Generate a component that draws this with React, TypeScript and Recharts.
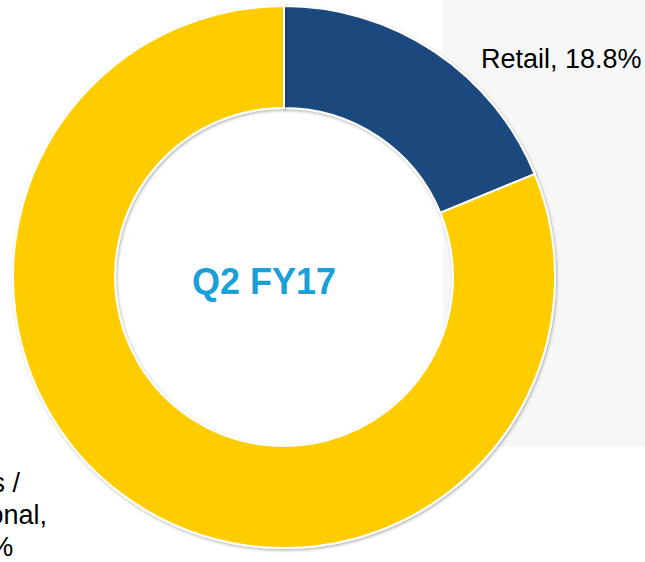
import React from 'react';
import { PieChart, Pie, Cell } from 'recharts';

const segments = ['Retail', 'Banks / Institutional'];
const shares = [18.8, 81.2];
const colors = ['#1f497d', '#ffcc00'];
const centerTitle = 'Q2 FY17';

const data = segments.map((name, i) => ({ name, value: shares[i] }));

const FONT = '"Liberation Sans", Arial, sans-serif';

// labels placed like the slide: retail to the upper right, the big slice bottom-left (cut by the edge)
const renderLabel = (props: any) => {
  const { cx, cy, index, name, value } = props;
  if (index === 0) {
    return (
      <g>
        <text x={cx - 20} y={cy + 17} textAnchor="middle" fontSize={36} fontWeight="bold" fontFamily={FONT} fill="#1a9fd8">
          {centerTitle}
        </text>
        <text x={cx + 197} y={cy - 209} textAnchor="start" fontSize={27} fontFamily={FONT} fill="#000">
          {`${name}, ${value}%`}
        </text>
      </g>
    );
  }
  const parts = String(name).split(' / ');
  const lines = [`${parts[0]} /`, `${parts[1]},`, `${value}%`];
  return (
    <text x={cx - 309} y={cy + 215} textAnchor="middle" fontSize={27} fontFamily={FONT} fill="#000">
      {lines.map((l, i) => (
        <tspan key={i} x={cx - 309} dy={i === 0 ? 0 : 32}>
          {l}
        </tspan>
      ))}
    </text>
  );
};

export default function App() {
  return (
    <div style={{ position: 'absolute', left: 0, top: 0, width: 645, height: 562, background: '#fff', overflow: 'hidden' }}>
      <div style={{ position: 'absolute', left: 443, top: 0, width: 202, height: 447, background: '#f7f7f7' }} />
      <div style={{ position: 'absolute', left: 0, top: 0 }}>
        <PieChart width={645} height={562} margin={{ top: 0, right: 0, bottom: 0, left: 0 }}>
          <defs>
            <filter id="ds" x="-10%" y="-10%" width="120%" height="120%">
              <feDropShadow dx="1" dy="1.5" stdDeviation="1.5" floodColor="#000" floodOpacity="0.3" />
            </filter>
          </defs>
          <Pie
            data={data}
            dataKey="value"
            nameKey="name"
            cx={284}
            cy={277}
            outerRadius={271}
            innerRadius={169}
            startAngle={90}
            endAngle={-270}
            stroke="#fff"
            strokeWidth={2}
            filter="url(#ds)"
            label={renderLabel}
            labelLine={false}
            isAnimationActive={false}
          >
            {data.map((d, i) => (
              <Cell key={d.name} fill={colors[i]} />
            ))}
          </Pie>
        </PieChart>
      </div>
    </div>
  );
}
